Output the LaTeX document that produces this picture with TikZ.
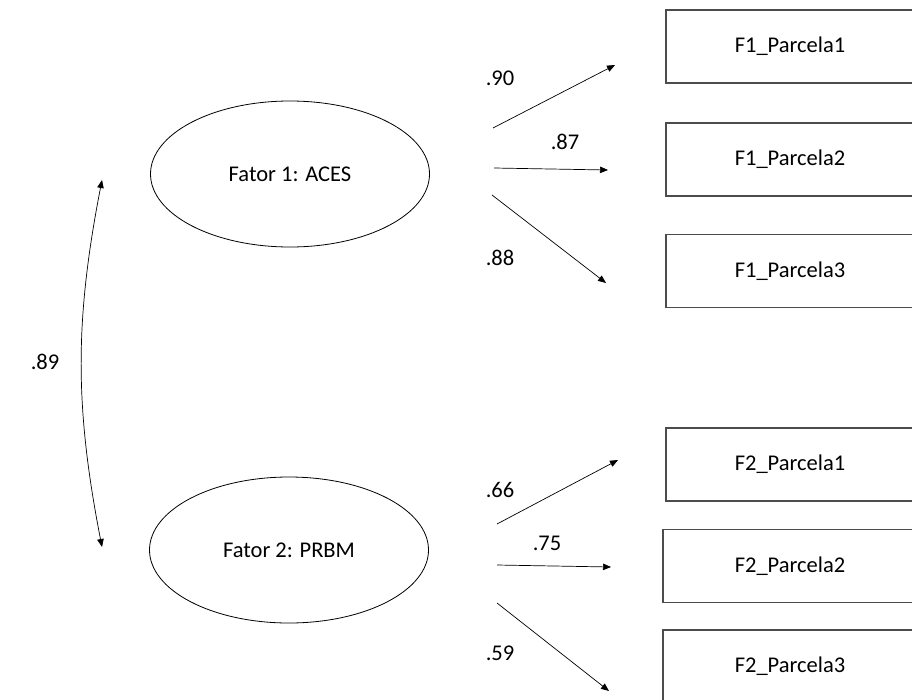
\documentclass[tikz,border=0pt]{standalone}
\usepackage{fontspec}
\setmainfont{Carlito}
\usepackage{tikz}
\usetikzlibrary{arrows.meta,shapes.geometric}

\tikzset{
  fator/.style={ellipse, draw=black, line width=0.8pt, minimum width=279pt, minimum height=146pt, inner sep=0pt},
  parcela/.style={rectangle, draw=black!70, line width=1.1pt, minimum width=248pt, minimum height=73pt, inner sep=0pt},
  carga/.style={-{Triangle[length=8pt,width=6.5pt]}, line width=0.7pt},
  peso/.style={inner sep=0pt}
}

\begin{document}
\begin{tikzpicture}[x=1pt,y=-1pt,font=\fontsize{22.5}{26}\selectfont]

\useasboundingbox (0,0) rectangle (912,699);
\clip (0,0) rectangle (912,699);

% fatores
\node[fator] (F1) at (290,174) {Fator 1: ACES};
\node[fator] (F2) at (289,550) {Fator 2: PRBM};

% parcelas
\node[parcela] (P11) at (790,46.5) {F1\_Parcela1};
\node[parcela] (P12) at (790,159.5) {F1\_Parcela2};
\node[parcela] (P13) at (790,271) {F1\_Parcela3};

\node[parcela] (P21) at (790,464.5) {F2\_Parcela1};
\node[parcela, minimum width=254pt] (P22) at (790,566) {F2\_Parcela2};
\node[parcela, minimum width=254pt] (P23) at (790,666.5) {F2\_Parcela3};

% pontas das setas
\coordinate (a1) at (493,128);  \coordinate (a1e) at (615,65);
\coordinate (a2) at (494,168);  \coordinate (a2e) at (608,170);
\coordinate (a3) at (492,195);  \coordinate (a3e) at (606,283);

\coordinate (b1) at (497,524);  \coordinate (b1e) at (618,460);
\coordinate (b2) at (497,565);  \coordinate (b2e) at (611,567);
\coordinate (b3) at (497,603);  \coordinate (b3e) at (609,691);

\foreach \i in {a1,a2,a3,b1,b2,b3}
    \draw[carga] (\i) -- (\i e);

% cargas fatoriais
\node[peso] (w11) at (500,78) {.90};
\node[peso] (w12) at (565,142) {.87};
\node[peso] (w13) at (500,258) {.88};
\node[peso] (w21) at (500,490) {.66};
\node[peso] (w22) at (547,543) {.75};
\node[peso] (w23) at (500,653) {.59};

% correlacao
\coordinate (c1) at (102,180);
\coordinate (c2) at (102,547);
\draw[{Triangle[length=8pt,width=6.5pt]}-{Triangle[length=8pt,width=6.5pt]}, line width=0.7pt]
    (c1) to[bend right=11] (c2);
\node[peso] (r12) at (45,362) {.89};

\end{tikzpicture}
\end{document}
